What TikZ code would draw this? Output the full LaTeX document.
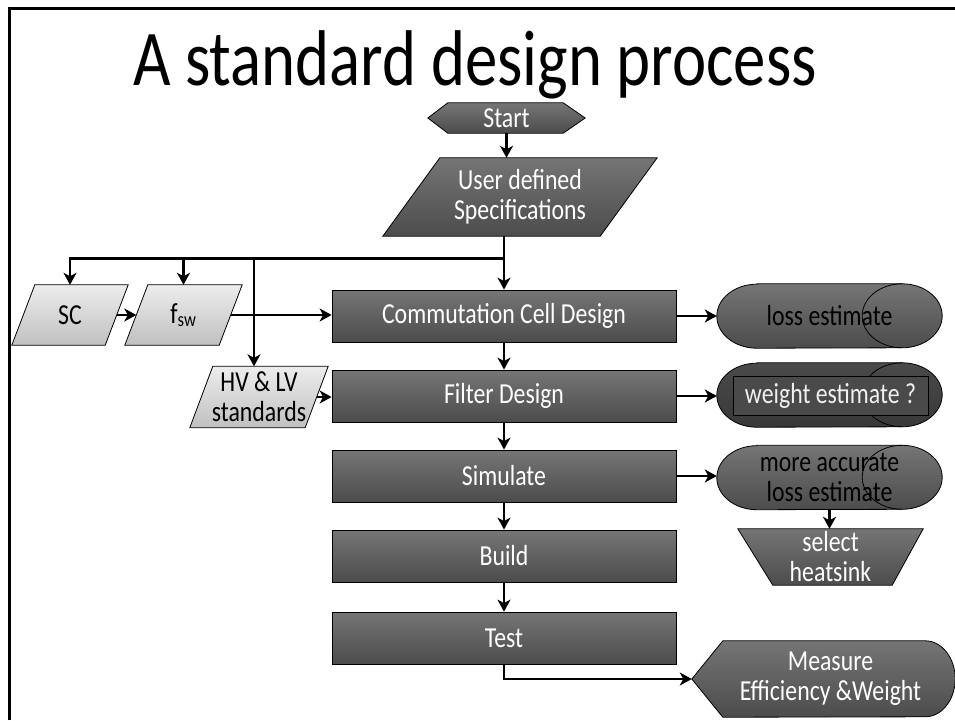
\documentclass[tikz,border=0pt]{standalone}
\usepackage{fontspec}
\setmainfont{Carlito}[FakeStretch=0.82]
\usetikzlibrary{arrows.meta,calc}
\pgfdeclarelayer{bg}
\pgfsetlayers{bg,main}
\definecolor{dtop}{HTML}{757575}
\definecolor{dbot}{HTML}{4C4C4C}
\definecolor{ltop}{HTML}{EDEDED}
\definecolor{lbot}{HTML}{C0C0C0}
\definecolor{wtop}{HTML}{4A4A4A}
\definecolor{wbot}{HTML}{383838}
\definecolor{wtext}{HTML}{F0F0F0}
\newcommand\storshape[2]{%
  \path[#2] ($(#1.north west)+(40,0)$) -- ($(#1.north east)+(-40,0)$)
    arc[start angle=90,end angle=-90,x radius=40,y radius=32]
    -- ($(#1.south west)+(40,0)$)
    arc[start angle=270,end angle=90,x radius=40,y radius=32] -- cycle;
  \draw[line width=0.8pt] ($(#1.north east)+(-40,0)$)
    arc[start angle=90,end angle=270,x radius=40,y radius=32];}
\newcommand\paralshape[3]{%
  \path[#2] (#1.south west) -- ($(#1.north west)+(#3,0)$) -- (#1.north east)
    -- ($(#1.south east)+(-#3,0)$) -- cycle;}
\begin{document}
\begin{tikzpicture}[x=1pt,y=1pt,
  font=\fontsize{29}{30}\selectfont,
  arr/.style={line width=2.6pt,-{Stealth[length=12pt,width=13pt,inset=3.5pt]}},
  dark/.style={top color=dtop,bottom color=dbot,draw=black,line width=0.8pt},
  light/.style={top color=ltop,bottom color=lbot,draw=black,line width=0.8pt},
  bbox/.style={rectangle,inner sep=0pt,align=center},
  mainbox/.style={dark,rectangle,minimum width=344pt,minimum height=52pt,inner sep=0pt,text=white},
]
\useasboundingbox (0,0) rectangle (955,-720);
\draw[line width=3pt] (9.5,-720) -- (9.5,-8.5) -- (955,-8.5);

\node[anchor=base,font=\fontsize{79}{82}\selectfont] (title) at (475,-85) {A standard design process};

% start and specification
\node[bbox,minimum width=157pt,minimum height=30pt,text=white] (start) at (506.5,-118) {Start};
\node[bbox,minimum width=274pt,minimum height=78pt,text=white] (spec) at (520,-197) {User defined\\Specifications};

% inputs
\node[bbox,minimum width=116pt,minimum height=60pt] (sc) at (70,-315) {SC};
\node[bbox,minimum width=117pt,minimum height=60pt] (fsw) at (183.5,-315) {f\textsubscript{sw}};
\node[bbox,minimum width=138pt,minimum height=61pt] (hv) at (259,-397) {HV \& LV\\standards};

% main chain
\node[mainbox] (ccd) at (504,-316) {Commutation Cell Design};
\node[mainbox] (filt) at (504,-396) {Filter Design};
\node[mainbox] (sim) at (504,-476) {Simulate};
\node[mainbox] (build) at (504,-556) {Build};
\node[mainbox] (test) at (504,-638) {Test};

% right side
\node[bbox,minimum width=225pt,minimum height=64pt] (loss) at (829.5,-316) {loss estimate};
\node[bbox,minimum width=225pt,minimum height=64pt] (wt) at (829.5,-395) {};
\node[draw=black,line width=0.8pt,fill=wtop,minimum width=195pt,minimum height=39pt,inner sep=0pt,text=wtext] (wtl) at (830.5,-395.5) {weight estimate ?};
\node[bbox,minimum width=225pt,minimum height=64pt] (acc) at (829.5,-477.5) {more accurate\\loss estimate};
\node[bbox,minimum width=185pt,minimum height=56pt,text=white] (hs) at (830.5,-557) {select\\heatsink};
\node[bbox,minimum width=263pt,minimum height=76pt,text=white] (meas) at (823.5,-679) {\hspace*{14pt}Measure\\\hspace*{14pt}Efficiency \&Weight};

\begin{pgfonlayer}{bg}
  \path[dark] (start.west) -- ($(start.north west)+(20,0)$) -- ($(start.north east)+(-22,0)$)
    -- (start.east) -- ($(start.south east)+(-22,0)$) -- ($(start.south west)+(20,0)$) -- cycle;
  \paralshape{spec}{dark}{57}
  \paralshape{sc}{light}{23}
  \paralshape{fsw}{light}{23}
  \paralshape{hv}{light}{23}
  \path[dark] (hs.north west) -- (hs.north east) -- ($(hs.south east)+(-31,0)$)
    -- ($(hs.south west)+(35,0)$) -- cycle;
  \storshape{loss}{dark}
  \storshape{wt}{draw=black,line width=0.8pt,top color=wtop,bottom color=wbot}
  \storshape{acc}{dark}
  \path[dark] (meas.west) -- ($(meas.north west)+(31,0)$) -- ($(meas.north east)+(-30,0)$)
    arc[start angle=90,end angle=-90,x radius=30,y radius=38]
    -- ($(meas.south west)+(31,0)$) -- cycle;
\end{pgfonlayer}

% connectors
\draw[arr] (start.south) -- (start.south |- spec.north);
\coordinate (jn) at ($(ccd.north |- spec.south)+(0,-22)$);
\coordinate (hvtop) at ($(hv.north)+(-5,0)$);
\draw[arr] (ccd.north |- spec.south) -- (ccd.north);
\draw[arr] (jn) -| (sc.north);
\draw[arr] (jn -| fsw.north) -- (fsw.north);
\draw[arr] (jn -| hvtop) -- (hvtop);
\draw[arr] ($(sc.east)+(-11.5,0)$) -- ($(fsw.west)+(11.5,0)$);
\draw[arr] ($(fsw.east)+(-11.5,0)$) -- (fsw.east -| ccd.west);
\draw[arr] ($(hv.east)+(-11.5,0)$) -- (hv.east -| filt.west);
\draw[arr] (ccd.south) -- (filt.north);
\draw[arr] (filt.south) -- (sim.north);
\draw[arr] (sim.south) -- (build.north);
\draw[arr] (build.south) -- (test.north);
\draw[arr] (ccd.east) -- (loss.west);
\draw[arr] (filt.east) -- (filt.east -| wt.west);
\draw[arr] (sim.east) -- (sim.east -| acc.west);
\draw[arr] (acc.south) -- (acc.south |- hs.north);
\draw[arr] (test.south) |- (meas.west);
\end{tikzpicture}
\end{document}
